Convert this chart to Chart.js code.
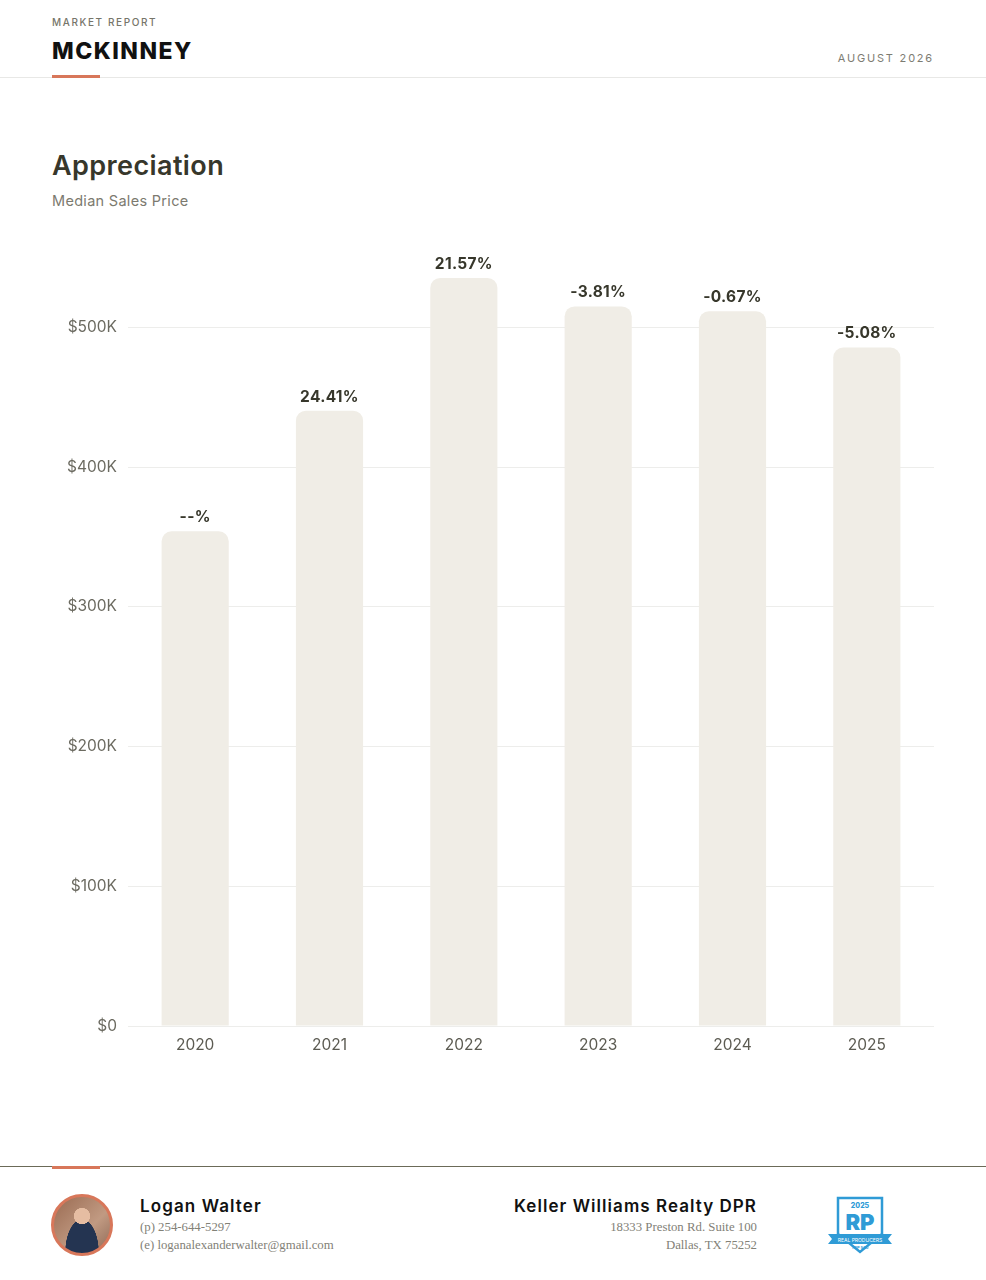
<!DOCTYPE html>
<html>
<head>
<meta charset="utf-8">
<script src="https://cdn.jsdelivr.net/npm/chart.js@4"></script>
<style>
  html, body { margin: 0; padding: 0; background: #fff; }
  body { width: 986px; height: 1280px; position: relative; overflow: hidden; font-family: "Inter", "Noto Sans", sans-serif; }
  .abs { position: absolute; }
  .kicker { left: 52px; top: 16px; font-size: 10px; letter-spacing: 1.6px; color: #76756a; font-weight: 500; }
  .city { left: 52px; top: 37px; font-size: 23px; font-weight: 800; color: #111; letter-spacing: 1.5px; }
  .date { right: 52px; top: 51px; font-size: 11px; letter-spacing: 1.8px; color: #7d7c72; }
  .hline { left: 0; top: 77px; width: 986px; height: 1px; background: #e8e8e6; }
  .accent { left: 52px; width: 48px; height: 3px; background: #d8775a; }
  .title { left: 52px; top: 149px; font-size: 27px; font-weight: 600; color: #37372b; letter-spacing: 0.4px; }
  .sub { left: 52px; top: 192px; font-size: 14.5px; color: #7c7a6f; letter-spacing: 0.3px; }
  #wrap { left: 52px; top: 240px; width: 882px; height: 820px; }
  .fline { left: 0; top: 1166px; width: 986px; height: 1px; background: #6b6a58; }
  .avatar { left: 51px; top: 1194px; width: 56px; height: 56px; border-radius: 50%; border: 3px solid #d8775a;
    background: radial-gradient(circle at 50% 34%, #e6bda2 0 17%, transparent 18%),
                radial-gradient(ellipse at 50% 100%, #243451 0 42%, transparent 43%),
                linear-gradient(135deg, #9a6b52, #c19a82 60%, #8f6a57); }
  .name { left: 140px; top: 1196px; font-size: 17px; font-weight: 600; color: #111; letter-spacing: 1.1px; }
  .serif { font-family: "Liberation Serif", "DejaVu Serif", serif; font-size: 12.8px; color: #828177; }
  .co { right: 229px; top: 1196px; font-size: 17px; font-weight: 600; color: #111; letter-spacing: 1.05px; text-align: right; }
  .r { text-align: right; right: 229px; }
</style>
</head>
<body>
<div class="abs kicker">MARKET REPORT</div>
<div class="abs city">MCKINNEY</div>
<div class="abs date">AUGUST 2026</div>
<div class="abs hline"></div>
<div class="abs accent" style="top:75px"></div>

<div class="abs title">Appreciation</div>
<div class="abs sub">Median Sales Price</div>

<div class="abs" id="wrap"><canvas id="appChart"></canvas></div>

<div class="abs fline"></div>
<div class="abs accent" style="top:1166px"></div>
<div class="abs avatar"></div>
<div class="abs name">Logan Walter</div>
<div class="abs serif" style="left:140px;top:1220px">(p) 254-644-5297</div>
<div class="abs serif" style="left:140px;top:1238px">(e) loganalexanderwalter@gmail.com</div>
<div class="abs co">Keller Williams Realty DPR</div>
<div class="abs serif r" style="top:1220px">18333 Preston Rd. Suite 100</div>
<div class="abs serif r" style="top:1238px">Dallas, TX 75252</div>

<svg class="abs" style="left:826px;top:1194px" width="68" height="62" viewBox="0 0 68 62">
  <path d="M12 4 L56 4 L56 40 L34 58 L12 40 Z" fill="#fff" stroke="#2f9bd6" stroke-width="2.5"/>
  <text x="34" y="14" text-anchor="middle" font-family="Inter" font-size="7" font-weight="800" fill="#2f9bd6">2025</text>
  <text x="34" y="36" text-anchor="middle" font-family="Inter" font-size="22" font-weight="900" fill="#2f9bd6">RP</text>
  <path d="M2 40 L66 40 L62 45 L66 50 L2 50 L6 45 Z" fill="#2f9bd6"/>
  <text x="34" y="47.5" text-anchor="middle" font-family="Inter" font-size="5" fill="#fff">REAL PRODUCERS</text>
  <text x="34" y="55" text-anchor="middle" font-family="Inter" font-size="4" font-weight="700" fill="#2f9bd6">TOP 500</text>
</svg>

<script>
// Median sales price by year
const years = ['2020', '2021', '2022', '2023', '2024', '2025'];
const medianPrices = [354000, 440400, 535400, 515000, 511550, 485560];
const changeLabels = ['--%', '24.41%', '21.57%', '-3.81%', '-0.67%', '-5.08%'];
const yTicks = [0, 100000, 200000, 300000, 400000, 500000];

// Draws the yearly % change above each bar
const barLabels = {
  id: 'barLabels',
  afterDatasetsDraw(chart) {
    const ctx = chart.ctx;
    const meta = chart.getDatasetMeta(0);
    ctx.save();
    ctx.font = '700 15.5px Inter';
    ctx.fillStyle = '#37372b';
    ctx.textAlign = 'center';
    ctx.textBaseline = 'bottom';
    ctx.letterSpacing = '0.3px';
    meta.data.forEach((bar, i) => {
      ctx.fillText(changeLabels[i], bar.x, bar.y - 6);
    });
    ctx.restore();
  }
};

const ctx = document.getElementById('appChart').getContext('2d');
new Chart(ctx, {
  type: 'bar',
  data: {
    labels: years,
    datasets: [{
      data: medianPrices,
      backgroundColor: '#f0ede6',
      borderRadius: 10,
      borderSkipped: 'start',
      barPercentage: 0.5,
      categoryPercentage: 1.0
    }]
  },
  options: {
    responsive: true,
    maintainAspectRatio: false,
    animation: false,
    layout: { padding: { top: 8, right: 0, left: 0, bottom: 0 } },
    plugins: { legend: { display: false }, tooltip: { enabled: false } },
    scales: {
      x: {
        grid: { display: false },
        border: { display: false },
        ticks: { color: '#5c5b52', font: { family: 'Inter', size: 15.5 }, padding: 2 },
        afterFit: (s) => { s.height = 34; }
      },
      y: {
        min: 0,
        max: 548000,
        afterBuildTicks: (s) => { s.ticks = yTicks.map(v => ({ value: v })); },
        grid: { color: '#ededeb', drawTicks: false },
        border: { display: false },
        ticks: {
          color: '#6b6a60',
          font: { family: 'Inter', size: 15.5 },
          padding: 11,
          callback: (v) => v === 0 ? '$0' : '$' + (v / 1000) + 'K'
        },
        afterFit: (s) => { s.width = 76; }
      }
    }
  },
  plugins: [barLabels]
});
</script>
</body>
</html>
